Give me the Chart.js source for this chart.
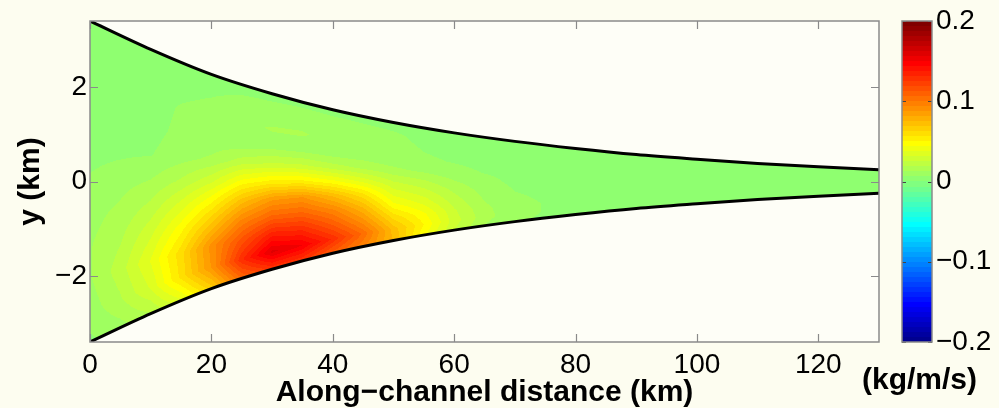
<!DOCTYPE html>
<html>
<head>
<meta charset="utf-8">
<title>Along-channel transport</title>
<script src="https://cdn.jsdelivr.net/npm/chart.js@4.4.1/dist/chart.umd.min.js"></script>
<style>
  html, body { margin: 0; padding: 0; background: #fdfdf0; }
  #stage { position: relative; width: 999px; height: 408px; overflow: hidden; }
  #stage canvas { position: absolute; top: 0; }
  #field { left: 0; }
  #scalebar { left: 862px; }
</style>
</head>
<body>
<div id="stage">
  <canvas id="field" width="999" height="408"></canvas>
  <canvas id="scalebar" width="137" height="408"></canvas>
</div>
<script>
// Channel outline: half-width (km) at each along-channel distance (km)
const distanceKm  = [0, 10, 20, 30, 40, 50, 60, 70, 80, 90, 100, 110, 120, 130];
const halfWidthKm = [3.40, 2.80, 2.27, 1.86, 1.52, 1.25, 1.03, 0.85, 0.70, 0.57, 0.47, 0.38, 0.31, 0.25];

// Transport (kg/m/s): columns along the channel, rows across it
// (cross-channel position as a fraction of the local half-width, south bank to north bank)
const fluxDistanceKm = [0, 5, 10, 15, 20, 25, 30, 35, 40, 45, 50, 55, 60, 65, 70, 80, 100, 130];
const fluxCrossPos   = [-1, -0.8, -0.6, -0.4, -0.2, 0, 0.2, 0.4, 0.6, 0.8, 1];
const fluxRows = [
  [0.005, 0.010, 0.018, 0.035, 0.065, 0.105, 0.125, 0.125, 0.110, 0.095, 0.075, 0.045, 0.025, 0.012, 0.007, 0.004, 0.003, 0.003],
  [0.009, 0.018, 0.032, 0.058, 0.088, 0.130, 0.158, 0.150, 0.130, 0.105, 0.072, 0.050, 0.028, 0.015, 0.008, 0.004, 0.003, 0.003],
  [0.012, 0.022, 0.038, 0.060, 0.090, 0.115, 0.135, 0.130, 0.112, 0.090, 0.060, 0.045, 0.026, 0.014, 0.008, 0.004, 0.003, 0.003],
  [0.012, 0.018, 0.030, 0.048, 0.070, 0.095, 0.108, 0.108, 0.095, 0.075, 0.046, 0.036, 0.022, 0.012, 0.007, 0.004, 0.003, 0.003],
  [0.010, 0.014, 0.021, 0.034, 0.050, 0.072, 0.086, 0.088, 0.074, 0.058, 0.035, 0.028, 0.018, 0.010, 0.006, 0.004, 0.003, 0.003],
  [0.007, 0.010, 0.013, 0.020, 0.030, 0.046, 0.052, 0.052, 0.046, 0.036, 0.025, 0.020, 0.013, 0.008, 0.005, 0.004, 0.003, 0.003],
  [0.004, 0.005, 0.006, 0.010, 0.014, 0.022, 0.026, 0.026, 0.022, 0.018, 0.014, 0.011, 0.008, 0.006, 0.005, 0.004, 0.003, 0.003],
  [0.003, 0.003, 0.004, 0.008, 0.008, 0.008, 0.010, 0.010, 0.009, 0.009, 0.008, 0.007, 0.006, 0.005, 0.004, 0.004, 0.003, 0.003],
  [0.003, 0.003, 0.003, 0.007, 0.009, 0.011, 0.013, 0.013, 0.011, 0.010, 0.008, 0.006, 0.005, 0.004, 0.004, 0.004, 0.003, 0.003],
  [0.003, 0.003, 0.003, 0.004, 0.006, 0.008, 0.009, 0.010, 0.009, 0.008, 0.007, 0.005, 0.004, 0.004, 0.004, 0.004, 0.003, 0.003],
  [0.003, 0.003, 0.003, 0.003, 0.003, 0.004, 0.004, 0.004, 0.004, 0.004, 0.004, 0.004, 0.004, 0.004, 0.004, 0.004, 0.003, 0.003]
];

// Axes and colour scale
const xTicks = [0, 20, 40, 60, 80, 100, 120];
const xRange = [0, 130];
const yTicks = [-2, 0, 2];
const yRange = [-3.4, 3.4];
const barTicks = [-0.2, -0.1, 0, 0.1, 0.2];
const barRange = [-0.2, 0.2];
const xTitle = 'Along\u2212channel distance (km)';
const yTitle = 'y (km)';
const unitsLabel = '(kg/m/s)';

const FONT = "'Liberation Sans', Arial, Helvetica, sans-serif";
const tickFont = { family: FONT, size: 28 };
const titleFont = { family: FONT, size: 30, weight: 'bold', lineHeight: 1 };
const AXIS = '#8a8a8a';
const PLOT_BG = '#fefef7';

const fmt = v => (v < 0 ? '\u2212' : '') + String(Math.abs(v));

// 64-step jet colour map
function jetRow(i) {
  const u = j => (j < 1 || j > 47) ? 0 : j <= 16 ? j / 16 : j <= 31 ? 1 : (48 - j) / 16;
  const k = i + 1;
  return [u(k - 24), u(k - 8), u(k + 8)].map(c => Math.round(c * 255));
}
const JET = Array.from({ length: 64 }, (_, i) => jetRow(i));
function colourIndex(v) {
  const t = (v - barRange[0]) / (barRange[1] - barRange[0]);
  return Math.max(0, Math.min(63, Math.floor(t * 64)));
}

function locate(arr, v) {
  const n = arr.length - 1;
  if (v <= arr[0]) return [0, 0];
  if (v >= arr[n]) return [n - 1, 1];
  let i = 0;
  while (arr[i + 1] < v) i++;
  return [i, (v - arr[i]) / (arr[i + 1] - arr[i])];
}
function lerpTable(xs, ys, v) {
  const [i, t] = locate(xs, v);
  return ys[i] + (ys[i + 1] - ys[i]) * t;
}
function sampleFlux(x, eta) {
  const [i, tx] = locate(fluxDistanceKm, x);
  const [j, ty] = locate(fluxCrossPos, eta);
  const a = fluxRows[j][i], b = fluxRows[j][i + 1];
  const c = fluxRows[j + 1][i], d = fluxRows[j + 1][i + 1];
  return (a * (1 - tx) + b * tx) * (1 - ty) + (c * (1 - tx) + d * tx) * ty;
}

// Filled-contour image of the transport, placed through the chart's scales
let fieldCache = null;
function fieldPattern(chart) {
  const a = chart.chartArea;
  const sx = chart.scales.x, sy = chart.scales.y;
  if (!a || !sx || !sy || a.right <= a.left) return 'rgba(0,0,0,0)';
  const key = [a.left, a.top, a.right, a.bottom].join('|');
  if (fieldCache && fieldCache.key === key) return fieldCache.pattern;
  const off = document.createElement('canvas');
  off.width = chart.width;
  off.height = chart.height;
  const octx = off.getContext('2d');
  const x0 = Math.floor(a.left), y0 = Math.floor(a.top);
  const w = Math.ceil(a.right) - x0, h = Math.ceil(a.bottom) - y0;
  const img = octx.createImageData(w, h);
  const d = img.data;
  for (let j = 0; j < h; j++) {
    const yv = sy.getValueForPixel(y0 + j + 0.5);
    for (let i = 0; i < w; i++) {
      const xv = sx.getValueForPixel(x0 + i + 0.5);
      const half = lerpTable(distanceKm, halfWidthKm, xv);
      const eta = Math.max(-1, Math.min(1, yv / half));
      const c = JET[colourIndex(sampleFlux(xv, eta))];
      const k = (j * w + i) * 4;
      d[k] = c[0]; d[k + 1] = c[1]; d[k + 2] = c[2]; d[k + 3] = 255;
    }
  }
  octx.putImageData(img, x0, y0);
  const pattern = chart.ctx.createPattern(off, 'no-repeat');
  fieldCache = { key, pattern };
  return pattern;
}

// Plot background, box and inward tick marks
const axesFrame = {
  id: 'axesFrame',
  beforeDraw(chart) {
    const { ctx, chartArea: a } = chart;
    ctx.save();
    ctx.fillStyle = PLOT_BG;
    ctx.fillRect(a.left, a.top, a.width, a.height);
    ctx.restore();
  },
  afterDraw(chart) {
    const { ctx, chartArea: a, scales: { x, y } } = chart;
    ctx.save();
    ctx.strokeStyle = AXIS;
    ctx.lineWidth = 1.2;
    ctx.beginPath();
    x.ticks.forEach(t => {
      const p = Math.round(x.getPixelForValue(t.value)) + 0.5;
      ctx.moveTo(p, a.bottom); ctx.lineTo(p, a.bottom - 8);
      ctx.moveTo(p, a.top); ctx.lineTo(p, a.top + 8);
    });
    y.ticks.forEach(t => {
      const p = Math.round(y.getPixelForValue(t.value)) + 0.5;
      ctx.moveTo(a.left, p); ctx.lineTo(a.left + 8, p);
      ctx.moveTo(a.right, p); ctx.lineTo(a.right - 8, p);
    });
    ctx.stroke();
    ctx.lineWidth = 1.5;
    ctx.strokeRect(a.left, a.top, a.width, a.height);
    ctx.restore();
  }
};

const boundary = sign => distanceKm.map((x, i) => ({ x, y: sign * halfWidthKm[i] }));

new Chart(document.getElementById('field'), {
  type: 'line',
  data: {
    datasets: [
      { data: boundary(1), borderColor: '#000', borderWidth: 3, pointRadius: 0,
        cubicInterpolationMode: 'monotone', fill: '+1',
        backgroundColor: c => fieldPattern(c.chart) },
      { data: boundary(-1), borderColor: '#000', borderWidth: 3, pointRadius: 0,
        cubicInterpolationMode: 'monotone', fill: false }
    ]
  },
  options: {
    responsive: false, animation: false, devicePixelRatio: 1, events: [],
    layout: { padding: { left: 0, top: 21, right: 120, bottom: 0 } },
    plugins: {
      legend: { display: false }, tooltip: { enabled: false },
      filler: { drawTime: 'beforeDatasetsDraw' }
    },
    scales: {
      x: {
        type: 'linear', min: xRange[0], max: xRange[1],
        afterBuildTicks: s => { s.ticks = xTicks.map(v => ({ value: v })); },
        afterFit: s => { s.height = 66; },
        grid: { display: false, drawTicks: false }, border: { display: false },
        ticks: { font: tickFont, color: '#000', padding: 6, maxRotation: 0, autoSkip: false, callback: v => fmt(v) },
        title: { display: true, text: xTitle, font: titleFont, color: '#000', padding: { top: 0, bottom: 0 } }
      },
      y: {
        type: 'linear', min: yRange[0], max: yRange[1],
        afterBuildTicks: s => { s.ticks = yTicks.map(v => ({ value: v })); },
        afterFit: s => { s.width = 90; },
        grid: { display: false, drawTicks: false }, border: { display: false },
        ticks: { font: tickFont, color: '#000', padding: 3, callback: v => fmt(v) },
        title: { display: true, text: yTitle, font: titleFont, color: '#000', padding: { top: 16, bottom: 0 } }
      }
    }
  },
  plugins: [axesFrame]
});

// Colour bar
function jetGradient(chart) {
  const a = chart.chartArea;
  if (!a) return 'rgba(0,0,0,0)';
  const g = chart.ctx.createLinearGradient(0, a.bottom, 0, a.top);
  JET.forEach((c, i) => {
    const col = `rgb(${c[0]},${c[1]},${c[2]})`;
    g.addColorStop(i / 64, col);
    g.addColorStop((i + 1) / 64, col);
  });
  return g;
}

const barFrame = {
  id: 'barFrame',
  afterDraw(chart) {
    const { ctx, chartArea: a, scales: { y } } = chart;
    ctx.save();
    ctx.strokeStyle = '#444';
    ctx.lineWidth = 1;
    ctx.beginPath();
    barTicks.forEach(v => {
      const p = Math.round(y.getPixelForValue(v)) + 0.5;
      ctx.moveTo(a.left, p); ctx.lineTo(a.left + 4, p);
      ctx.moveTo(a.right, p); ctx.lineTo(a.right - 4, p);
    });
    ctx.stroke();
    ctx.strokeStyle = AXIS;
    ctx.lineWidth = 1.5;
    ctx.strokeRect(a.left, a.top, a.width, a.height);
    ctx.restore();
  }
};

new Chart(document.getElementById('scalebar'), {
  type: 'bar',
  data: {
    labels: [''],
    datasets: [{ data: [barRange], yAxisID: 'y', backgroundColor: c => jetGradient(c.chart),
                 borderWidth: 0, barPercentage: 1, categoryPercentage: 1 }]
  },
  options: {
    responsive: false, animation: false, devicePixelRatio: 1, events: [],
    layout: { padding: { left: 0, top: 21, right: 0, bottom: 0 } },
    plugins: {
      legend: { display: false }, tooltip: { enabled: false },
      title: { display: true, text: unitsLabel, position: 'bottom', align: 'start',
               font: titleFont, color: '#000', padding: { top: 24, bottom: 12 } }
    },
    scales: {
      x: { display: false },
      y: {
        position: 'right', min: barRange[0], max: barRange[1],
        afterBuildTicks: s => { s.ticks = barTicks.map(v => ({ value: v })); },
        afterFit: s => { s.width = 67; },
        grid: { display: false, drawTicks: false }, border: { display: false },
        ticks: { font: tickFont, color: '#000', padding: 4, callback: v => fmt(v) }
      },
      gap: {
        type: 'linear', position: 'left', display: true,
        afterFit: s => { s.width = 40; },
        grid: { display: false, drawTicks: false }, border: { display: false },
        ticks: { display: false }
      }
    }
  },
  plugins: [barFrame]
});
</script>
</body>
</html>
